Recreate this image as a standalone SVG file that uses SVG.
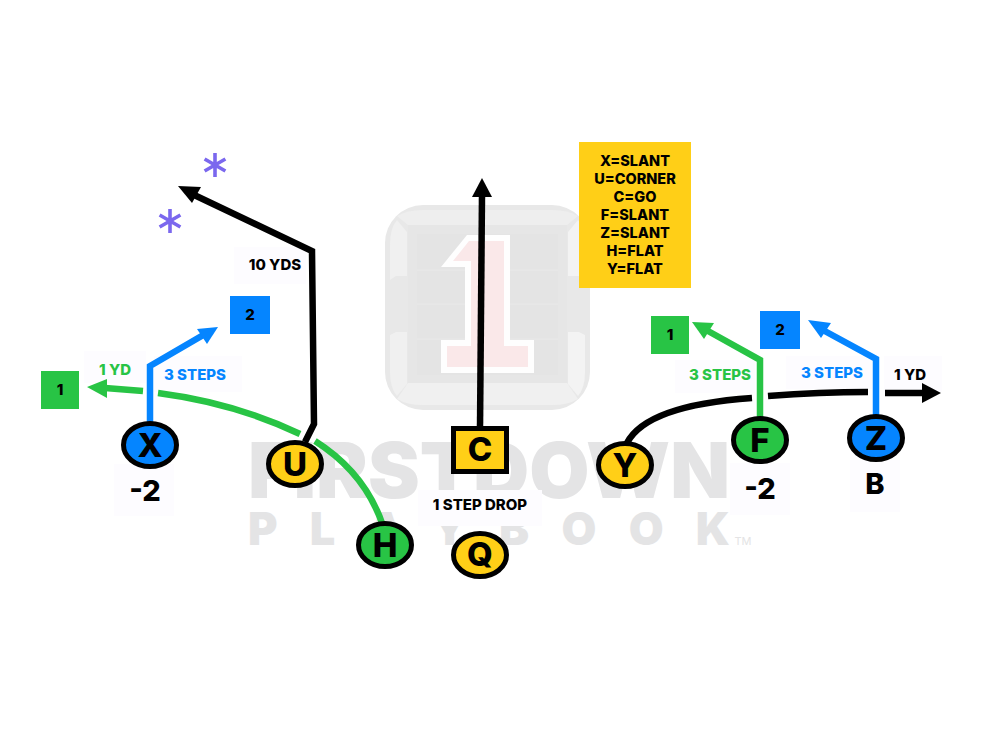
<svg xmlns="http://www.w3.org/2000/svg" width="1000" height="750" viewBox="0 0 1000 750">
<style>
text{font-family:Inter,"Liberation Sans",sans-serif;font-weight:800;text-anchor:middle}
.r{fill:none;stroke-width:6.500}
.k{stroke:#000}.g{stroke:#28c445}.b{stroke:#0585ff}
.n{stroke:#000;stroke-width:5}
.y{fill:#ffcf17}.gf{fill:#28c445}.bf{fill:#0585ff}
.nt{font-size:33px;fill:#000}
.lb{font-size:15px}
.pad{fill:#fdfcff}
.wm{fill:#e4e4e5;font-weight:900}
</style>
<defs><path id="star" d="M0-12V12M-10.400-6L10.400 6M-10.400 6L10.400-6" fill="none" stroke="#7b68ee" stroke-width="3.600"/></defs>
<g id="watermark">
<rect x="385" y="205" width="205" height="205" rx="38" fill="#e8e8e8"/>
<path d="M397 216L408 225H567L578 216Q568 210 552 210H423Q407 210 397 216Z" fill="#eeeeee"/>
<path d="M397 399L408 383H567L578 399Q568 405 552 405H423Q407 405 397 399Z" fill="#f0f0f0"/>
<path d="M390 280V245Q390 228 397 220L407 232V276H396Z" fill="#f0f0f0"/>
<path d="M390 335V372Q390 388 397 396L407 384V332H396Z" fill="#f0f0f0"/>
<path d="M585 280V245Q585 228 578 220L568 232V276H579Z" fill="#f3f3f3"/>
<path d="M585 335V372Q585 388 578 396L568 384V332H579Z" fill="#f3f3f3"/>
<rect x="408" y="225" width="159" height="158" fill="#e6e6e6"/>
<rect x="417" y="234" width="141" height="141" fill="#e4e4e4"/>
<path d="M417 270H558M417 304H558M417 339H558" stroke="#e9e9e9" stroke-width="1"/>
<path d="M467 235H510V340H534V373H441V340H465V267H441Z" fill="#fefefe"/>
<path d="M469 241H504V346H528V367H447V346H471V261H453Z" fill="#fae8e9"/>
<text class="wm" x="489" y="498" font-size="77" textLength="482" lengthAdjust="spacingAndGlyphs">FIRSTDOWN</text>
<text class="wm" x="489" y="545" font-size="45" textLength="482">PLAYBOOK</text>
<text x="743" y="545" font-size="11" fill="#e4e4e5" style="font-weight:400">TM</text>
</g>
<g id="label-pads">
<rect class="pad" x="234" y="247" width="72" height="37"/>
<rect class="pad" x="84" y="351" width="62" height="32"/>
<rect class="pad" x="154" y="356" width="88" height="36"/>
<rect class="pad" x="114" y="464" width="60" height="52"/>
<rect class="pad" x="675" y="360" width="80" height="33"/>
<rect class="pad" x="786" y="356" width="86" height="33"/>
<rect class="pad" x="884" y="356" width="58" height="36"/>
<rect class="pad" x="730" y="463" width="60" height="52"/>
<rect class="pad" x="850" y="460" width="50" height="52"/>
<rect class="pad" x="418" y="490" width="124" height="36"/>
</g>
<g id="connectors">
<path class="r g" d="M143 391L105 388"/><path class="gf" d="M87 387L107 379V398Z"/>
<path class="r g" d="M158 393Q235 403 300 434"/>
<path class="r g" d="M315 441Q364 472 382 523"/>
<path class="r b" d="M150 423V366L205 334"/><path class="bf" d="M218 327L197 329L207 344Z"/>
<path class="r k" d="M305 442L314 424L312 251L190 193"/><path d="M178 186L201 187L192 203Z"/>
<path class="r k" d="M480 428L482 195"/><path d="M482 178L492 197H472Z"/>
<path class="r k" d="M627 443C640 418 680 403 752 398"/>
<path class="r k" d="M768 396Q820 392 868 392"/>
<path class="r k" d="M885 393L924 393"/><path d="M941 393L922 383V403Z"/>
<path class="r g" d="M760 418V360L708 331"/><path class="gf" d="M692 322L714 323L704 339Z"/>
<path class="r b" d="M876 416V359L821 329"/><path class="bf" d="M808 320L831 323L821 338Z"/>
</g>
<g id="X"><ellipse class="n bf" cx="150" cy="445" rx="26.500" ry="21.500"/><text class="nt" x="150" y="457">X</text></g>
<g id="U"><ellipse class="n y" cx="295" cy="464" rx="26.500" ry="21.500"/><text class="nt" x="295" y="476">U</text></g>
<g id="H"><ellipse class="n gf" cx="385" cy="545" rx="26.500" ry="21.500"/><text class="nt" x="385" y="557">H</text></g>
<g id="C"><rect class="n y" x="453.500" y="428.500" width="53" height="43"/><text class="nt" x="480" y="461">C</text></g>
<g id="Q"><ellipse class="n y" cx="480" cy="555" rx="26.500" ry="21.500"/><text class="nt" x="480" y="566">Q</text></g>
<g id="Y"><ellipse class="n y" cx="625" cy="465" rx="26.500" ry="21.500"/><text class="nt" x="625" y="477">Y</text></g>
<g id="F"><ellipse class="n gf" cx="760" cy="440" rx="26.500" ry="21.500"/><text class="nt" x="760" y="452">F</text></g>
<g id="Z"><ellipse class="n bf" cx="876" cy="438" rx="26.500" ry="21.500"/><text class="nt" x="876" y="450">Z</text></g>
<g id="box-left-1"><rect class="gf" x="41" y="371" width="38" height="38"/><text x="60" y="395" font-size="15">1</text></g>
<g id="box-left-2"><rect class="bf" x="230" y="296" width="40" height="38"/><text x="250" y="320" font-size="15">2</text></g>
<g id="box-right-1"><rect class="gf" x="651" y="316" width="38" height="38"/><text x="670" y="340" font-size="15">1</text></g>
<g id="box-right-2"><rect class="bf" x="760" y="311" width="40" height="38"/><text x="780" y="335" font-size="15">2</text></g>
<g id="assignments"><rect class="y" x="579" y="142" width="112" height="146"/>
<g font-size="14.500"><text x="635" y="166">X=SLANT</text><text x="635" y="184">U=CORNER</text><text x="635" y="202">C=GO</text><text x="635" y="220">F=SLANT</text><text x="635" y="238">Z=SLANT</text><text x="635" y="256">H=FLAT</text><text x="635" y="274">Y=FLAT</text></g></g>
<g id="labels">
<text class="lb" x="275" y="270">10 YDS</text>
<text class="lb" x="115" y="375" fill="#28c445">1 YD</text>
<text class="lb" x="195" y="380" fill="#0585ff">3 STEPS</text>
<text class="lb" x="720" y="380" fill="#28c445">3 STEPS</text>
<text class="lb" x="832" y="378" fill="#0585ff">3 STEPS</text>
<text class="lb" x="910" y="380">1 YD</text>
<text class="lb" x="480" y="510">1 STEP DROP</text>
<text x="145" y="501" font-size="29">-2</text>
<text x="760" y="499" font-size="29">-2</text>
<text x="875" y="494" font-size="29">B</text>
</g>
<g id="stars"><use href="#star" x="215" y="165"/><use href="#star" x="170" y="221"/></g>
</svg>
